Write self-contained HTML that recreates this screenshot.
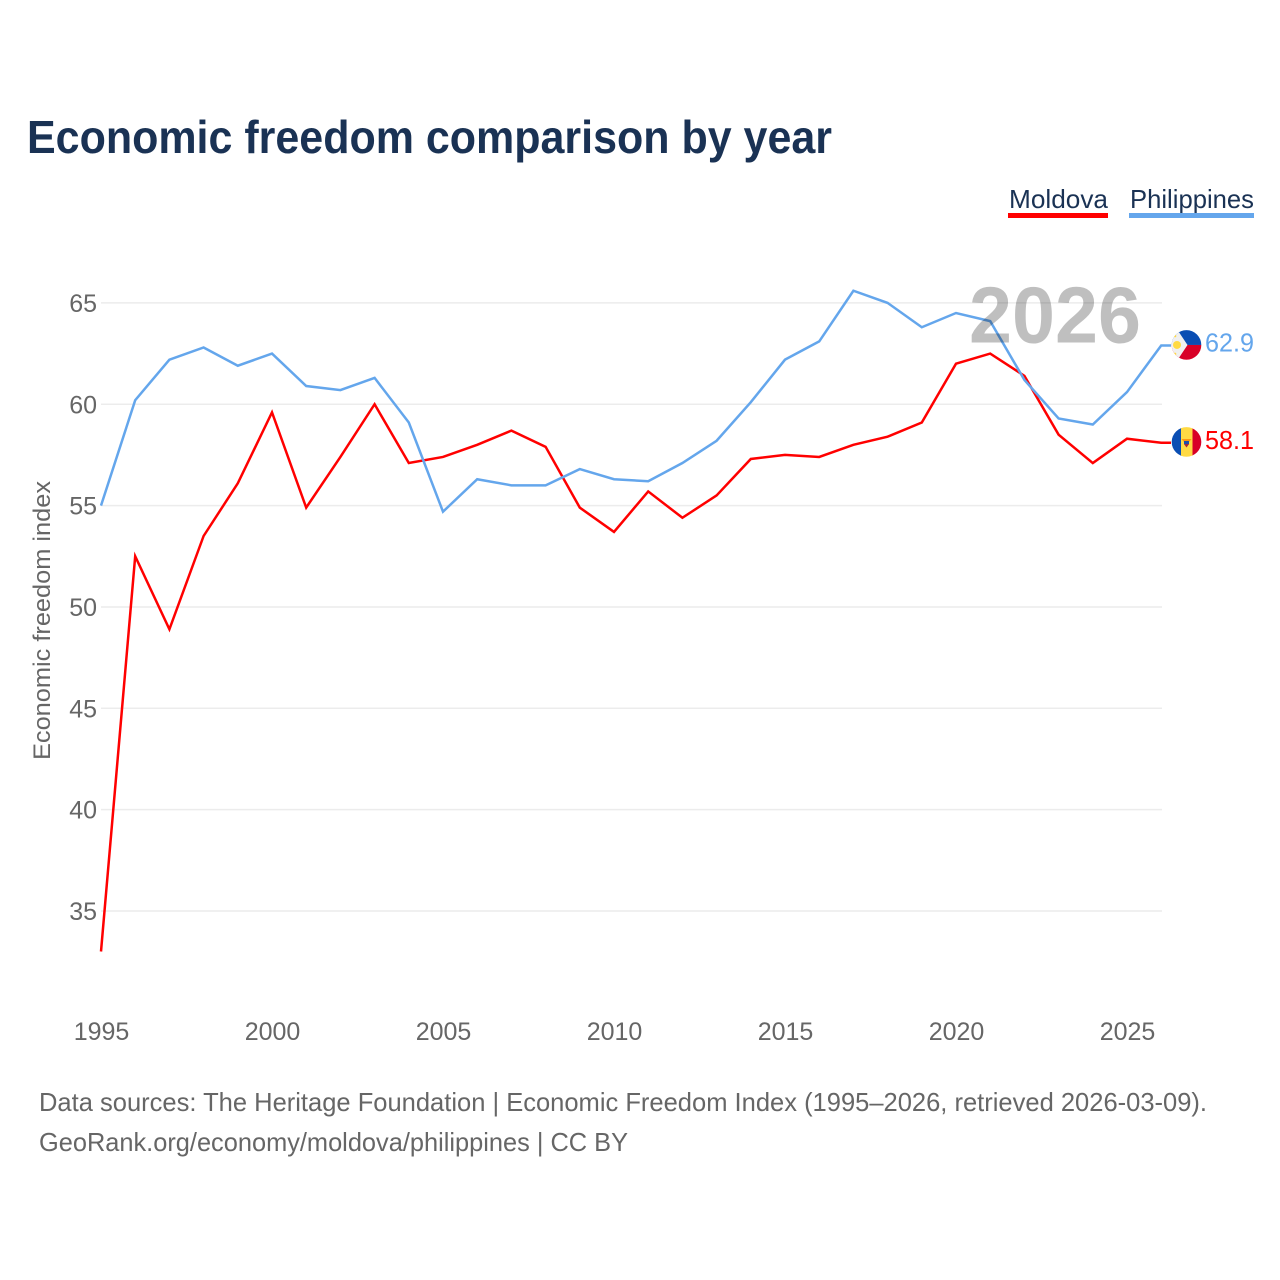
<!DOCTYPE html>
<html lang="en">
<head>
<meta charset="utf-8">
<title>Economic freedom comparison by year</title>
<style>
html,body{margin:0;padding:0;background:#fff;width:1280px;height:1280px;overflow:hidden}
svg{display:block}
text{font-family:"Liberation Sans",sans-serif}
</style>
</head>
<body>
<svg id="chart" xmlns="http://www.w3.org/2000/svg" width="1280" height="1280" viewBox="0 0 1280 1280">
  <rect width="1280" height="1280" fill="#fff"/>
  <text x="27" y="153" font-size="46" font-weight="700" fill="#1a3254" textLength="805" lengthAdjust="spacingAndGlyphs">Economic freedom comparison by year</text>

  <g>
    <text x="1009" y="208" font-size="26" fill="#1a3254" textLength="99" lengthAdjust="spacingAndGlyphs">Moldova</text>
    <rect x="1008" y="213" width="100" height="5" fill="#ff0000"/>
  </g>
  <g>
    <text x="1130" y="208" font-size="26" fill="#1a3254" textLength="124" lengthAdjust="spacingAndGlyphs">Philippines</text>
    <rect x="1129" y="213" width="125" height="5" fill="#64a6ec"/>
  </g>

  <g id="grid"></g>
  <g id="y-ticks"></g>
  <g id="x-ticks"></g>

  <text transform="translate(50,620.5) rotate(-90)" text-anchor="middle" font-size="24" fill="#666" textLength="279" lengthAdjust="spacingAndGlyphs">Economic freedom index</text>

  <g id="series"></g>

  <text id="year-watermark" x="969" y="342.5" font-size="80" font-weight="700" fill="#000" fill-opacity="0.25" textLength="172" lengthAdjust="spacingAndGlyphs">2026</text>

  <defs>
    <clipPath id="flag-clip"><circle cx="0" cy="0" r="14.8"/></clipPath>
  </defs>

  <g id="flag-ph" clip-path="url(#flag-clip)">
    <rect x="-15" y="-15" width="30" height="15" fill="#0a4eb3"/>
    <rect x="-15" y="0" width="30" height="15" fill="#d80027"/>
    <polygon points="-15,-15 -9,-15 1,0 -9,15 -15,15" fill="#f0f0f0"/>
    <circle cx="-9.5" cy="0" r="4" fill="#ffda44"/>
    <circle cx="-11.5" cy="-9" r="1.3" fill="#ffda44"/>
    <circle cx="-11.5" cy="9" r="1.3" fill="#ffda44"/>
  </g>
  <g id="flag-md" clip-path="url(#flag-clip)">
    <rect x="-15" y="-15" width="10" height="30" fill="#0a4eb3"/>
    <rect x="-5.5" y="-15" width="12" height="30" fill="#ffda44"/>
    <rect x="6" y="-15" width="9" height="30" fill="#d80027"/>
    <polygon points="-5,-3 5,-3 2.5,0 -2.5,0" fill="#ff9811"/>
    <rect x="-2.5" y="-1" width="5" height="3.5" fill="#1f4ea8"/>
    <polygon points="-2.5,2 2.5,2 0,5.5" fill="#a6283a"/>
  </g>

  <text id="value-ph" x="1205" font-size="26" fill="#64a6ec" textLength="49" lengthAdjust="spacingAndGlyphs"></text>
  <text id="value-md" x="1205" font-size="26" fill="#ff0000" textLength="49" lengthAdjust="spacingAndGlyphs"></text>

  <text x="39" y="1111" font-size="26" fill="#666" textLength="1168" lengthAdjust="spacingAndGlyphs">Data sources: The Heritage Foundation | Economic Freedom Index (1995–2026, retrieved 2026-03-09).</text>
  <text x="39" y="1151" font-size="26" fill="#666" textLength="589" lengthAdjust="spacingAndGlyphs">GeoRank.org/economy/moldova/philippines | CC BY</text>
</svg>
<script>
const years = [1995,1996,1997,1998,1999,2000,2001,2002,2003,2004,2005,2006,2007,2008,2009,2010,2011,2012,2013,2014,2015,2016,2017,2018,2019,2020,2021,2022,2023,2024,2025,2026];
const moldova = [33.0,52.5,48.9,53.5,56.1,59.6,54.9,57.4,60.0,57.1,57.4,58.0,58.7,57.9,54.9,53.7,55.7,54.4,55.5,57.3,57.5,57.4,58.0,58.4,59.1,62.0,62.5,61.4,58.5,57.1,58.3,58.1];
const philippines = [55.0,60.2,62.2,62.8,61.9,62.5,60.9,60.7,61.3,59.1,54.7,56.3,56.0,56.0,56.8,56.3,56.2,57.1,58.2,60.1,62.2,63.1,65.6,65.0,63.8,64.5,64.1,61.2,59.3,59.0,60.6,62.9];
const yTickValues = [35,40,45,50,55,60,65];
const xTickValues = [1995,2000,2005,2010,2015,2020,2025];

const NS = 'http://www.w3.org/2000/svg';
const xScale = function (year) { return 101 + (year - 1995) * 34.2; };
const yScale = function (v) { return 911 - (v - 35) * 20.27; };

const grid = document.getElementById('grid');
const yTicks = document.getElementById('y-ticks');
const xTicks = document.getElementById('x-ticks');
const seriesGroup = document.getElementById('series');

yTickValues.forEach(function (v) {
  const line = document.createElementNS(NS, 'line');
  
  
  line.setAttribute('x1', 101);
  line.setAttribute('x2', 1162);
  line.setAttribute('y1', yScale(v));
  line.setAttribute('y2', yScale(v));
  line.setAttribute('stroke', '#ececec');
  line.setAttribute('stroke-width', 1.5);
  grid.appendChild(line);

  const t = document.createElementNS(NS, 'text');
  
  
  t.setAttribute('x', 97);
  t.setAttribute('y', yScale(v) + 9);
  t.setAttribute('text-anchor', 'end');
  t.setAttribute('font-size', 25);
  t.setAttribute('fill', '#666');
  t.textContent = v;
  yTicks.appendChild(t);
});

xTickValues.forEach(function (y) {
  const t = document.createElementNS(NS, 'text');
  
  
  t.setAttribute('x', xScale(y) + 0.5);
  t.setAttribute('y', 1040);
  t.setAttribute('text-anchor', 'middle');
  t.setAttribute('font-size', 25);
  t.setAttribute('fill', '#666');
  t.textContent = y;
  xTicks.appendChild(t);
});

function pathFor(values) {
  const pts = values.map(function (v, i) {
    return (i ? 'L' : 'M') + xScale(years[i]).toFixed(2) + ' ' + yScale(v).toFixed(2);
  });
  pts.push('L1171 ' + yScale(values[values.length - 1]).toFixed(2));
  return pts.join(' ');
}

const bluePath = document.createElementNS(NS, 'path');


bluePath.setAttribute('d', pathFor(philippines));
bluePath.setAttribute('fill', 'none');
bluePath.setAttribute('stroke', '#64a6ec');
bluePath.setAttribute('stroke-width', 2.5);

const redPath = document.createElementNS(NS, 'path');


redPath.setAttribute('d', pathFor(moldova));
redPath.setAttribute('fill', 'none');
redPath.setAttribute('stroke', '#ff0000');
redPath.setAttribute('stroke-width', 2.5);

seriesGroup.appendChild(redPath);
seriesGroup.appendChild(bluePath);

const lastPh = philippines[philippines.length - 1];
const lastMd = moldova[moldova.length - 1];
const lastYear = years[years.length - 1];

document.getElementById('flag-ph').setAttribute('transform', 'translate(1186.5,' + (yScale(lastPh) - 0.5) + ')');
document.getElementById('flag-md').setAttribute('transform', 'translate(1186.5,' + (yScale(lastMd) - 0.8) + ')');

const valuePh = document.getElementById('value-ph');
valuePh.textContent = lastPh.toFixed(1);
valuePh.setAttribute('y', yScale(lastPh) + 6);
const valueMd = document.getElementById('value-md');
valueMd.textContent = lastMd.toFixed(1);
valueMd.setAttribute('y', yScale(lastMd) + 6);

document.getElementById('year-watermark').textContent = lastYear;
</script>
</body>
</html>
